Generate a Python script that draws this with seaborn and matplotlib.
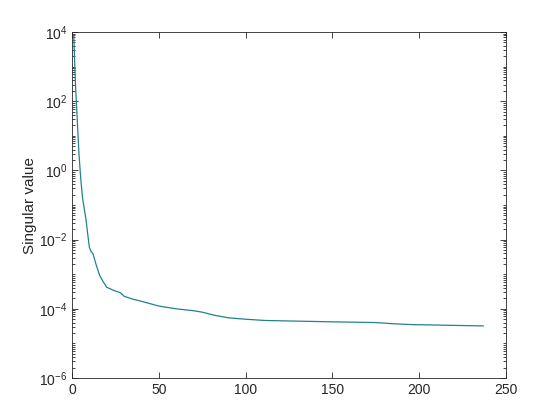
import matplotlib
matplotlib.use("Agg")
import matplotlib.pyplot as plt
import matplotlib.ticker as mticker
import pandas as pd
import seaborn as sns

# singular values (index, value)
index = [1, 2, 3, 4, 5, 6, 7, 8, 9, 10, 11, 12, 14, 16, 18, 20, 24, 28, 30,
         35, 40, 50, 60, 70, 75, 82, 90, 100, 111, 130, 150, 175, 185, 195,
         215, 237]
singular = [8000, 300, 30, 3, 0.6, 0.17, 0.08, 0.04, 0.015, 0.006, 0.0045,
            0.004, 0.0018, 9e-4, 6e-4, 4.2e-4, 3.4e-4, 2.9e-4, 2.3e-4,
            1.9e-4, 1.65e-4, 1.2e-4, 1.0e-4, 8.8e-5, 8e-5, 6.5e-5, 5.5e-5,
            5e-5, 4.6e-5, 4.4e-5, 4.2e-5, 4e-5, 3.7e-5, 3.5e-5, 3.35e-5,
            3.2e-5]

df = pd.DataFrame({"idx": index, "sv": singular})

sns.set_style("ticks")
plt.rcParams['font.family'] = ['Liberation Sans', 'DejaVu Sans']
plt.rcParams['mathtext.fontset'] = 'custom'
plt.rcParams['mathtext.rm'] = 'Liberation Sans'

fig = plt.figure(figsize=(5.6, 4.2), dpi=100)
ax = fig.add_axes([0.1286, 0.1, 0.775, 0.8238])

sns.lineplot(data=df, x="idx", y="sv", ax=ax, color="#23818c", linewidth=0.9)

ax.set_yscale("log")
ax.set_xlim(0, 250)
ax.set_ylim(1e-6, 1e4)
ax.set_xticks([0, 50, 100, 150, 200, 250])
ax.yaxis.set_major_locator(mticker.FixedLocator([1e-6, 1e-4, 1e-2, 1e0, 1e2, 1e4]))
ax.yaxis.set_major_formatter(mticker.LogFormatterSciNotation())
ax.yaxis.set_minor_locator(mticker.LogLocator(base=10, subs=range(1, 10), numticks=30))
ax.yaxis.set_minor_formatter(mticker.NullFormatter())

ax.set_xlabel("")
ax.set_ylabel("Singular value", fontsize=11, color="#262626", labelpad=1)
ax.tick_params(which="both", direction="in", top=True, right=True,
               labelsize=10, colors="#262626", width=0.6)
ax.tick_params(which="major", length=4)
ax.tick_params(which="minor", length=2)
for s in ax.spines.values():
    s.set_linewidth(0.6)
    s.set_color("#262626")

fig.savefig("out.png", dpi=100)
